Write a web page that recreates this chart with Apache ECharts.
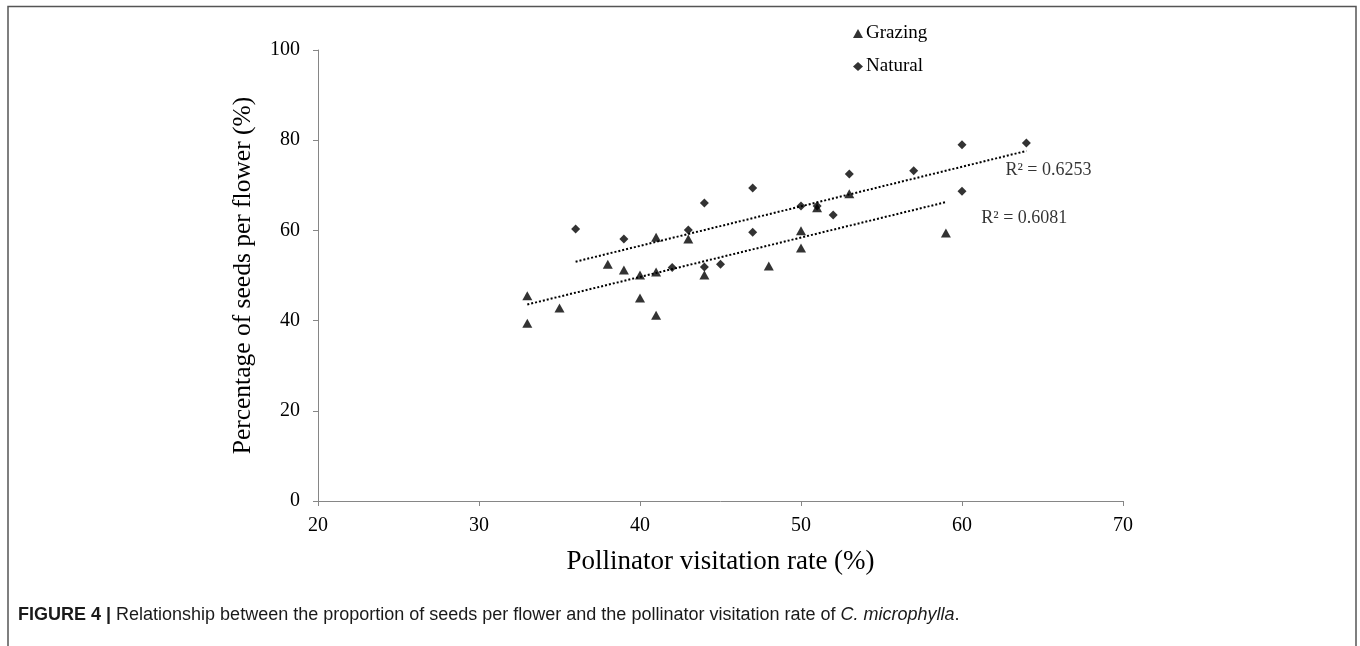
<!DOCTYPE html>
<html>
<head>
<meta charset="utf-8">
<script src="https://cdn.jsdelivr.net/npm/echarts@6/dist/echarts.min.js"></script>
<style>html,body{margin:0;padding:0;background:#fff;}#c{width:1360px;height:646px;}</style>
</head>
<body>
<div id="c"></div>
<script>
// Grazing (triangles)
var grazingX = [33, 33, 35, 38, 39, 40, 40, 41, 41, 41, 43, 44, 48, 50, 50, 51, 53, 59];
var grazingY = [39.4, 45.5, 42.8, 52.5, 51.2, 50.1, 45.0, 50.8, 41.2, 58.5, 58.1, 50.1, 52.1, 59.9, 56.1, 65.0, 68.1, 59.4];
// Natural (diamonds)
var naturalX = [36, 39, 42, 43, 44, 44, 45, 47, 47, 50, 51, 52, 53, 57, 60, 60, 64];
var naturalY = [60.3, 58.1, 51.8, 60.1, 66.1, 51.9, 52.5, 69.4, 59.6, 65.4, 65.4, 63.4, 72.5, 73.2, 79.0, 68.7, 79.4];
var seriesNames = ['Grazing', 'Natural'];
var r2Labels = ['R² = 0.6081', 'R² = 0.6253'];
var r2Pos = [[61.2, 62.7], [62.7, 73.4]];
var xTicks = [20, 30, 40, 50, 60, 70];
var yTicks = [0, 20, 40, 60, 80, 100];

function zip(xs, ys) { return xs.map(function (x, i) { return [x, ys[i]]; }); }
function fit(xs, ys) {
  var n = xs.length, mx = 0, my = 0;
  for (var i = 0; i < n; i++) { mx += xs[i]; my += ys[i]; }
  mx /= n; my /= n;
  var sxy = 0, sxx = 0;
  for (var j = 0; j < n; j++) { sxy += (xs[j] - mx) * (ys[j] - my); sxx += (xs[j] - mx) * (xs[j] - mx); }
  var b = sxy / sxx, a = my - b * mx;
  var x0 = Math.min.apply(null, xs), x1 = Math.max.apply(null, xs);
  return [[x0, a + b * x0], [x1, a + b * x1]];
}

var serif = '"Liberation Serif", "Times New Roman", serif';
var axisColor = '#868686';
var chart = echarts.init(document.getElementById('c'));
chart.setOption({
  animation: false,
  backgroundColor: '#fff',
  grid: { left: 318, right: 237, top: 50, bottom: 145, containLabel: false },
  legend: {
    orient: 'vertical', left: 848, top: 19, itemGap: 14, itemWidth: 10, itemHeight: 9,
    textStyle: { fontFamily: serif, fontSize: 19, color: '#000', padding: [0, 0, 0, -2] },
    data: [{ name: seriesNames[0], icon: 'triangle' }, { name: seriesNames[1], icon: 'diamond' }]
  },
  xAxis: {
    type: 'value', min: xTicks[0], max: xTicks[xTicks.length - 1], interval: 10,
    name: 'Pollinator visitation rate (%)', nameLocation: 'middle', nameGap: 47,
    nameTextStyle: { fontFamily: serif, fontSize: 27, color: '#000' },
    axisLine: { lineStyle: { color: axisColor, width: 1 } },
    axisTick: { show: true, length: 5, lineStyle: { color: axisColor } },
    axisLabel: { fontFamily: serif, fontSize: 20, color: '#000', margin: 15 },
    splitLine: { show: false }
  },
  yAxis: {
    type: 'value', min: yTicks[0], max: yTicks[yTicks.length - 1], interval: 20,
    name: 'Percentage of seeds per flower (%)', nameLocation: 'middle', nameGap: 62,
    nameTextStyle: { fontFamily: serif, fontSize: 25.5, color: '#000' },
    axisLine: { show: true, lineStyle: { color: axisColor, width: 1 } },
    axisTick: { show: true, inside: false, length: 5, lineStyle: { color: axisColor } },
    axisLabel: { fontFamily: serif, fontSize: 20, color: '#000', margin: 18 },
    splitLine: { show: false }
  },
  series: [
    { name: seriesNames[0], type: 'scatter', symbol: 'triangle', symbolSize: [10, 9],
      itemStyle: { color: '#000' }, data: zip(grazingX, grazingY), z: 3 },
    { name: seriesNames[1], type: 'scatter', symbol: 'diamond', symbolSize: 9,
      itemStyle: { color: '#000' }, data: zip(naturalX, naturalY), z: 3 },
    { name: 'fitG', type: 'line', data: fit(grazingX, grazingY), showSymbol: false, symbol: 'none',
      lineStyle: { color: '#000', width: 2, type: [2, 2] }, z: 2, silent: true },
    { name: 'fitN', type: 'line', data: fit(naturalX, naturalY), showSymbol: false, symbol: 'none',
      lineStyle: { color: '#000', width: 2, type: [2, 2] }, z: 2, silent: true },
    { name: 'r2', type: 'scatter', symbolSize: 0, silent: true,
      data: r2Pos.map(function (p, i) { return { value: p, label: { formatter: r2Labels[i] } }; }),
      label: { show: true, position: 'right', distance: 0, fontFamily: serif, fontSize: 18, color: '#000' } }
  ],
  graphic: [
    { type: 'polyline', shape: { points: [[8, 660], [8, 6.5], [1356, 6.5], [1356, 660]] },
      style: { stroke: '#555', lineWidth: 1.5, fill: null }, silent: true },
    { type: 'text', left: 18, top: 606, silent: true,
      style: {
        text: '{b|FIGURE 4 |} Relationship between the proportion of seeds per flower and the pollinator visitation rate of {i|C. microphylla}.',
        rich: {
          b: { fontFamily: '"Liberation Sans", Arial, sans-serif', fontWeight: 'bold', fontSize: 18, fill: '#1a1a1a' },
          i: { fontFamily: '"Liberation Sans", Arial, sans-serif', fontStyle: 'italic', fontSize: 18, fill: '#1a1a1a' }
        },
        font: '18px "Liberation Sans", Arial, sans-serif', fill: '#1a1a1a'
      } }
  ]
});
</script>
</body>
</html>
